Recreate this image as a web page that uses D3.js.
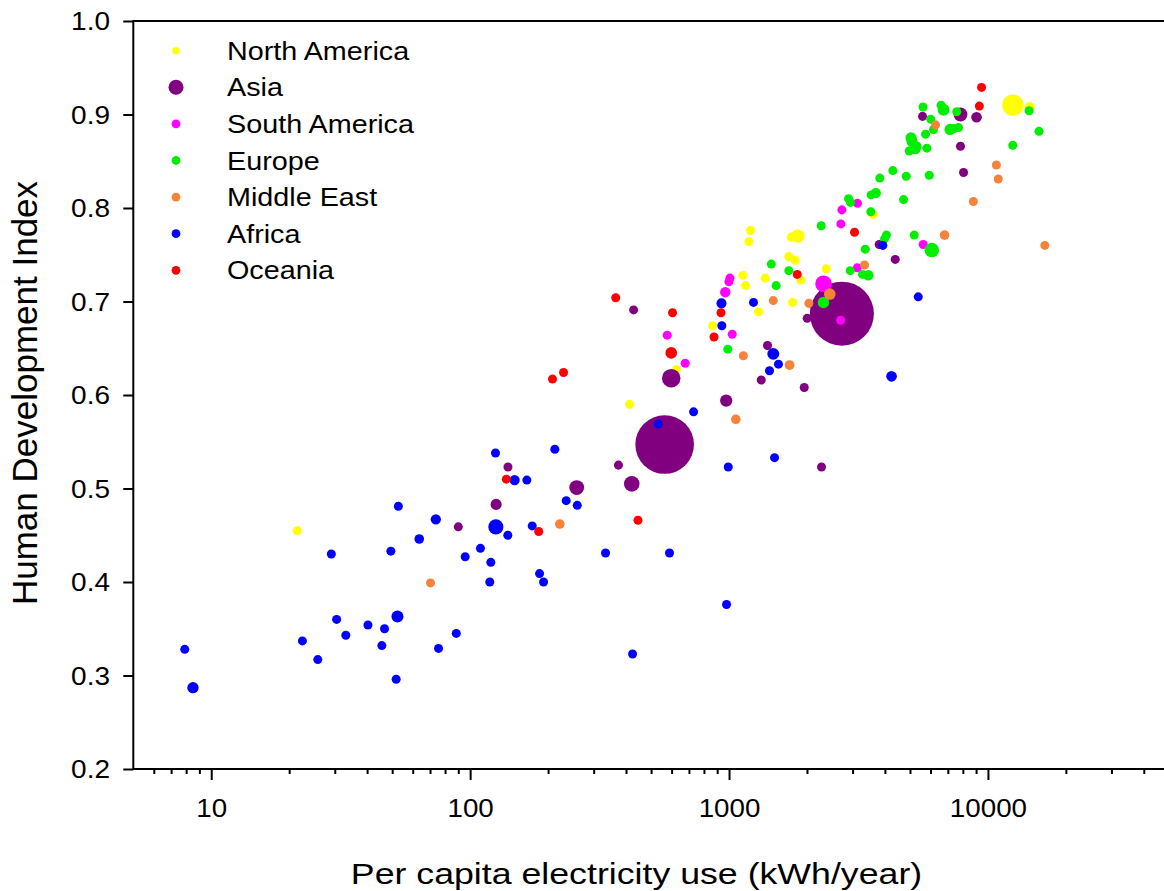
<!DOCTYPE html>
<html>
<head>
<meta charset="utf-8">
<script src="https://cdn.jsdelivr.net/npm/d3@7"></script>
<style>
  body { margin: 0; background: #fff; }
  text { font-family: "Liberation Sans", Arial, sans-serif; fill: #000; }
</style>
</head>
<body>
<svg id="chart"></svg>
<script>
// [kWh per capita, HDI, population in millions (default 10)]
const northAmerica = [
    [21.5, 0.455], [413, 0.590], [627, 0.627], [864, 0.674], [1300, 0.689],
    [1131, 0.728], [1158, 0.717], [1211, 0.776], [1193, 0.764], [1380, 0.725],
    [1759, 0.699], [1893, 0.723], [1702, 0.748], [1802, 0.744], [1740, 0.769],
    [1844, 0.770, 113], [2374, 0.735], [3606, 0.793], [12480, 0.910, 310], [14510, 0.908, 34]
];
const asia = [
    [140, 0.523], [126, 0.483, 60], [90, 0.459], [258, 0.501, 150], [374, 0.525],
    [421, 0.505, 170], [564, 0.547, 1210], [598, 0.618, 240], [428, 0.691], [975, 0.594, 88],
    [1408, 0.653], [1332, 0.616], [1952, 0.608], [2728, 0.687, 1340], [2004, 0.682],
    [3802, 0.761], [4385, 0.745], [5590, 0.898], [7834, 0.900, 127], [9036, 0.897, 49],
    [7834, 0.866], [8050, 0.838], [2276, 0.523]
];
const southAmerica = [
    [577, 0.664], [677, 0.634], [1008, 0.725], [999, 0.721], [967, 0.710, 46],
    [1029, 0.665], [2317, 0.719, 195], [2696, 0.680], [3127, 0.736], [5623, 0.761],
    [2704, 0.783], [2728, 0.798], [3134, 0.805]
];
const europe = [
    [989, 0.649], [1521, 0.717], [1456, 0.740], [1702, 0.733], [2317, 0.699, 73],
    [2270, 0.781], [2938, 0.733], [3278, 0.729], [3450, 0.728, 46], [3357, 0.756],
    [3987, 0.767], [4055, 0.771], [5190, 0.771], [6070, 0.755, 142], [2895, 0.810],
    [2946, 0.806], [3529, 0.796], [3540, 0.814], [3690, 0.816, 38], [3823, 0.832],
    [4292, 0.840], [4834, 0.834], [4721, 0.809], [5933, 0.835], [4966, 0.861],
    [5250, 0.863, 46], [5322, 0.866], [5047, 0.875, 62], [5093, 0.871, 60], [5807, 0.864],
    [5741, 0.879], [6166, 0.884], [6012, 0.895], [5613, 0.908], [6592, 0.910],
    [6738, 0.905, 82], [7145, 0.884, 65], [7405, 0.885], [7700, 0.886], [7578, 0.903],
    [14420, 0.904], [15750, 0.882], [12470, 0.867]
];
const middleEast = [
    [70.3, 0.399], [222, 0.462, 24], [1062, 0.574, 24], [1136, 0.642], [1482, 0.701],
    [1713, 0.632, 31], [2033, 0.698], [2450, 0.708, 74], [3337, 0.739], [6799, 0.771, 27],
    [8785, 0.807], [10780, 0.846], [10960, 0.831], [6277, 0.889, 8], [16590, 0.760]
];
const africa = [
    [7.9, 0.328], [8.5, 0.287, 66], [22.5, 0.337], [25.8, 0.317], [29.1, 0.430],
    [30.5, 0.360], [33.1, 0.343], [40.3, 0.354], [46.7, 0.350], [45.6, 0.332],
    [52.4, 0.363, 83], [51.8, 0.296], [49.4, 0.433], [52.8, 0.481], [63.6, 0.446, 24],
    [73.7, 0.467, 40], [75.5, 0.329], [88.4, 0.345], [95.7, 0.427], [109.6, 0.436],
    [120.2, 0.421], [119.1, 0.400], [125.7, 0.459, 158], [125.3, 0.538], [139.8, 0.450],
    [148.5, 0.509, 40], [165.6, 0.509], [173.7, 0.460], [185.4, 0.409], [192.1, 0.400],
    [212.4, 0.542], [235, 0.487], [259.3, 0.482], [333.4, 0.431], [532.8, 0.569],
    [589, 0.431], [729.4, 0.582], [993, 0.523], [1499, 0.533], [1482, 0.644, 81],
    [1552, 0.633], [1433, 0.626], [935, 0.698, 35], [938, 0.674], [1243, 0.699],
    [3926, 0.760], [4243, 0.620, 50], [5380, 0.705], [978, 0.376], [424, 0.323]
];
const oceania = [
    [138, 0.510], [184, 0.454], [208, 0.617], [229.5, 0.624], [365, 0.704],
    [445, 0.466], [605, 0.688], [598, 0.645, 75], [931, 0.688], [875, 0.662],
    [1834, 0.729], [3053, 0.774], [9446, 0.929], [9265, 0.909]
];

const regions = ["North America", "Asia", "South America", "Europe", "Middle East", "Africa", "Oceania"];
const regionData = [northAmerica, asia, southAmerica, europe, middleEast, africa, oceania];
const regionColors = ["#FFFF00", "#800080", "#FF00FF", "#00EE00", "#F5833A", "#0000FF", "#FF0000"];

const xMajorTicks = [10, 100, 1000, 10000];
const yTicks = [0.2, 0.3, 0.4, 0.5, 0.6, 0.7, 0.8, 0.9, 1.0];

const width = 1164, height = 891;
const plot = { left: 133.3, right: 1168.9, top: 21, bottom: 769 };

const svg = d3.select("#chart")
    .attr("width", width)
    .attr("height", height);

// scales
const x = d3.scaleLog().domain([5, 50000]).range([plot.left, plot.right]);
const y = d3.scaleLinear().domain([0.2, 1.0]).range([plot.bottom, plot.top]);
const r = d3.scaleLinear().domain([0, 1340]).range([4.3, 32]);

// minor ticks 2..9 of each decade
const xMinorTicks = [];
[1, 10, 100, 1000, 10000].forEach(base => {
    for (let k = 2; k <= 9; k++) {
        const v = base * k;
        if (v > 5 && v < 50000) xMinorTicks.push(v);
    }
});

// points, drawn in legend order
regions.forEach((name, i) => {
    svg.append("g")
        .selectAll("circle")
        .data(regionData[i])
        .enter().append("circle")
        .attr("cx", d => x(d[0]))
        .attr("cy", d => y(d[1]))
        .attr("r", d => r(d[2] ?? 10))
        .attr("fill", regionColors[i]);
});

// frame
svg.append("rect")
    .attr("x", plot.left)
    .attr("y", plot.top)
    .attr("width", plot.right - plot.left)
    .attr("height", plot.bottom - plot.top)
    .attr("fill", "none")
    .attr("stroke", "#000")
    .attr("stroke-width", 2);

// x axis minor ticks
const xMinor = svg.append("g")
    .attr("transform", `translate(0,${plot.bottom})`)
    .call(d3.axisBottom(x).tickValues(xMinorTicks).tickSize(5).tickFormat(""));
xMinor.select(".domain").remove();
xMinor.selectAll("line").attr("stroke-width", 2);

// x axis major ticks
const xMajor = svg.append("g")
    .attr("transform", `translate(0,${plot.bottom})`)
    .call(d3.axisBottom(x).tickValues(xMajorTicks).tickSize(11).tickFormat(d3.format("d")));
xMajor.select(".domain").remove();
xMajor.selectAll("line").attr("stroke-width", 2);
xMajor.selectAll("text")
    .attr("y", 48)
    .attr("dy", 0)
    .attr("font-size", "25px")
    .attr("font-family", "Liberation Sans, Arial, sans-serif")
    .attr("transform", "scale(1.11,1)");

// y axis
const yAxis = svg.append("g")
    .attr("transform", `translate(${plot.left},0)`)
    .call(d3.axisLeft(y).tickValues(yTicks).tickSize(10).tickPadding(10.8).tickFormat(d3.format(".1f")));
yAxis.select(".domain").remove();
yAxis.selectAll("line").attr("stroke-width", 2);
yAxis.selectAll("text")
    .attr("dy", "0.35em")
    .attr("font-size", "25px")
    .attr("font-family", "Liberation Sans, Arial, sans-serif")
    .attr("transform", "scale(1.12,1)");

// axis titles
svg.append("text")
    .attr("transform", "translate(636.5,884) scale(1.19,1)")
    .attr("text-anchor", "middle")
    .attr("font-size", "30px")
    .text("Per capita electricity use (kWh/year)");

svg.append("text")
    .attr("transform", "translate(37,393) rotate(-90)")
    .attr("text-anchor", "middle")
    .attr("font-size", "35px")
    .text("Human Development Index");

// legend
const legendR = { "North America": 3.7, "Asia": 7.5 };
const legend = svg.append("g")
    .selectAll(".legend-item")
    .data(regions)
    .enter().append("g")
    .attr("class", "legend-item")
    .attr("transform", (d, i) => `translate(176,${50.7 + i * 36.6})`);

legend.append("circle")
    .attr("r", d => legendR[d] || 4.4)
    .attr("fill", (d, i) => regionColors[i]);

legend.append("text")
    .attr("transform", "translate(51,9) scale(1.15,1)")
    .attr("font-size", "25px")
    .text(d => d);
</script>
</body>
</html>
